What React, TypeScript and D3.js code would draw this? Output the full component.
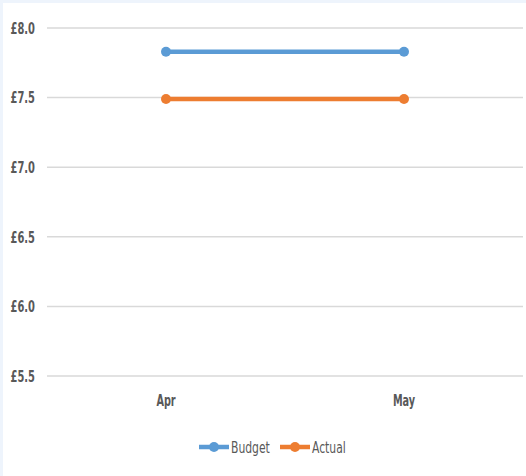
import React from "react";
import * as d3 from "d3";

// Monthly cost per unit, budget vs actual
const months = ["Apr", "May"];
const budget = [7.83, 7.83];
const actual = [7.49, 7.49];
const yTicks = [5.5, 6.0, 6.5, 7.0, 7.5, 8.0];

const W = 526;
const H = 476;
const FONT = "'DejaVu Sans Condensed', 'Liberation Sans Narrow', sans-serif";

const series = [
  { name: "Budget", values: budget, color: "#5b9bd5" },
  { name: "Actual", values: actual, color: "#ed7d31" },
];

// Narrow text: anchored at (x, y) and squeezed horizontally
function NarrowText(props: {
  x: number;
  y: number;
  sx: number;
  anchor: "start" | "middle" | "end";
  size: number;
  bold?: boolean;
  dy?: string;
  children: React.ReactNode;
}) {
  return (
    <g transform={`translate(${props.x},${props.y}) scale(${props.sx},1)`}>
      <text
        x={0}
        y={0}
        dy={props.dy}
        textAnchor={props.anchor}
        fontSize={props.size}
        fontWeight={props.bold ? "bold" : "normal"}
        fill="#595959"
      >
        {props.children}
      </text>
    </g>
  );
}

export default function App() {
  const x = d3.scaleBand<string>().domain(months).range([47, 523]);
  const y = d3.scaleLinear().domain([5.5, 8.0]).range([376, 28]);
  const cx = (i: number) => (x(months[i]) as number) + x.bandwidth() / 2;
  const line = d3
    .line<number>()
    .x((_, i) => cx(i))
    .y((d) => y(d));

  const legendItems = [
    { ...series[0], x0: 199, tx: 231 },
    { ...series[1], x0: 280, tx: 312 },
  ];

  return (
    <svg
      width={W}
      height={H}
      style={{ position: "fixed", left: 0, top: 0, display: "block" }}
      fontFamily={FONT}
    >
      <rect x={0} y={0} width={W} height={H} fill="#eef4fc" />
      <rect x={3} y={3} width={W - 3} height={H - 3} fill="#ffffff" />

      {yTicks.map((t) => (
        <g key={t}>
          <line x1={47} x2={523} y1={y(t)} y2={y(t)} stroke="#d9d9d9" strokeWidth={1.5} />
          <NarrowText x={35} y={y(t)} dy="0.36em" sx={0.69} anchor="end" size={16} bold>
            {"£" + d3.format(".1f")(t)}
          </NarrowText>
        </g>
      ))}

      {months.map((m, i) => (
        <NarrowText key={m} x={cx(i)} y={406} sx={0.72} anchor="middle" size={15} bold>
          {m}
        </NarrowText>
      ))}

      {series.map((s) => (
        <g key={s.name}>
          <path d={line(s.values) || ""} fill="none" stroke={s.color} strokeWidth={4.5} />
          {s.values.map((v, i) => (
            <circle key={i} cx={cx(i)} cy={y(v)} r={5} fill={s.color} />
          ))}
        </g>
      ))}

      {legendItems.map((l) => (
        <g key={l.name}>
          <line x1={l.x0} x2={l.x0 + 30} y1={447} y2={447} stroke={l.color} strokeWidth={4.5} />
          <circle cx={l.x0 + 15} cy={447} r={5} fill={l.color} />
          <NarrowText x={l.tx} y={452.5} sx={0.75} anchor="start" size={16}>
            {l.name}
          </NarrowText>
        </g>
      ))}
    </svg>
  );
}
